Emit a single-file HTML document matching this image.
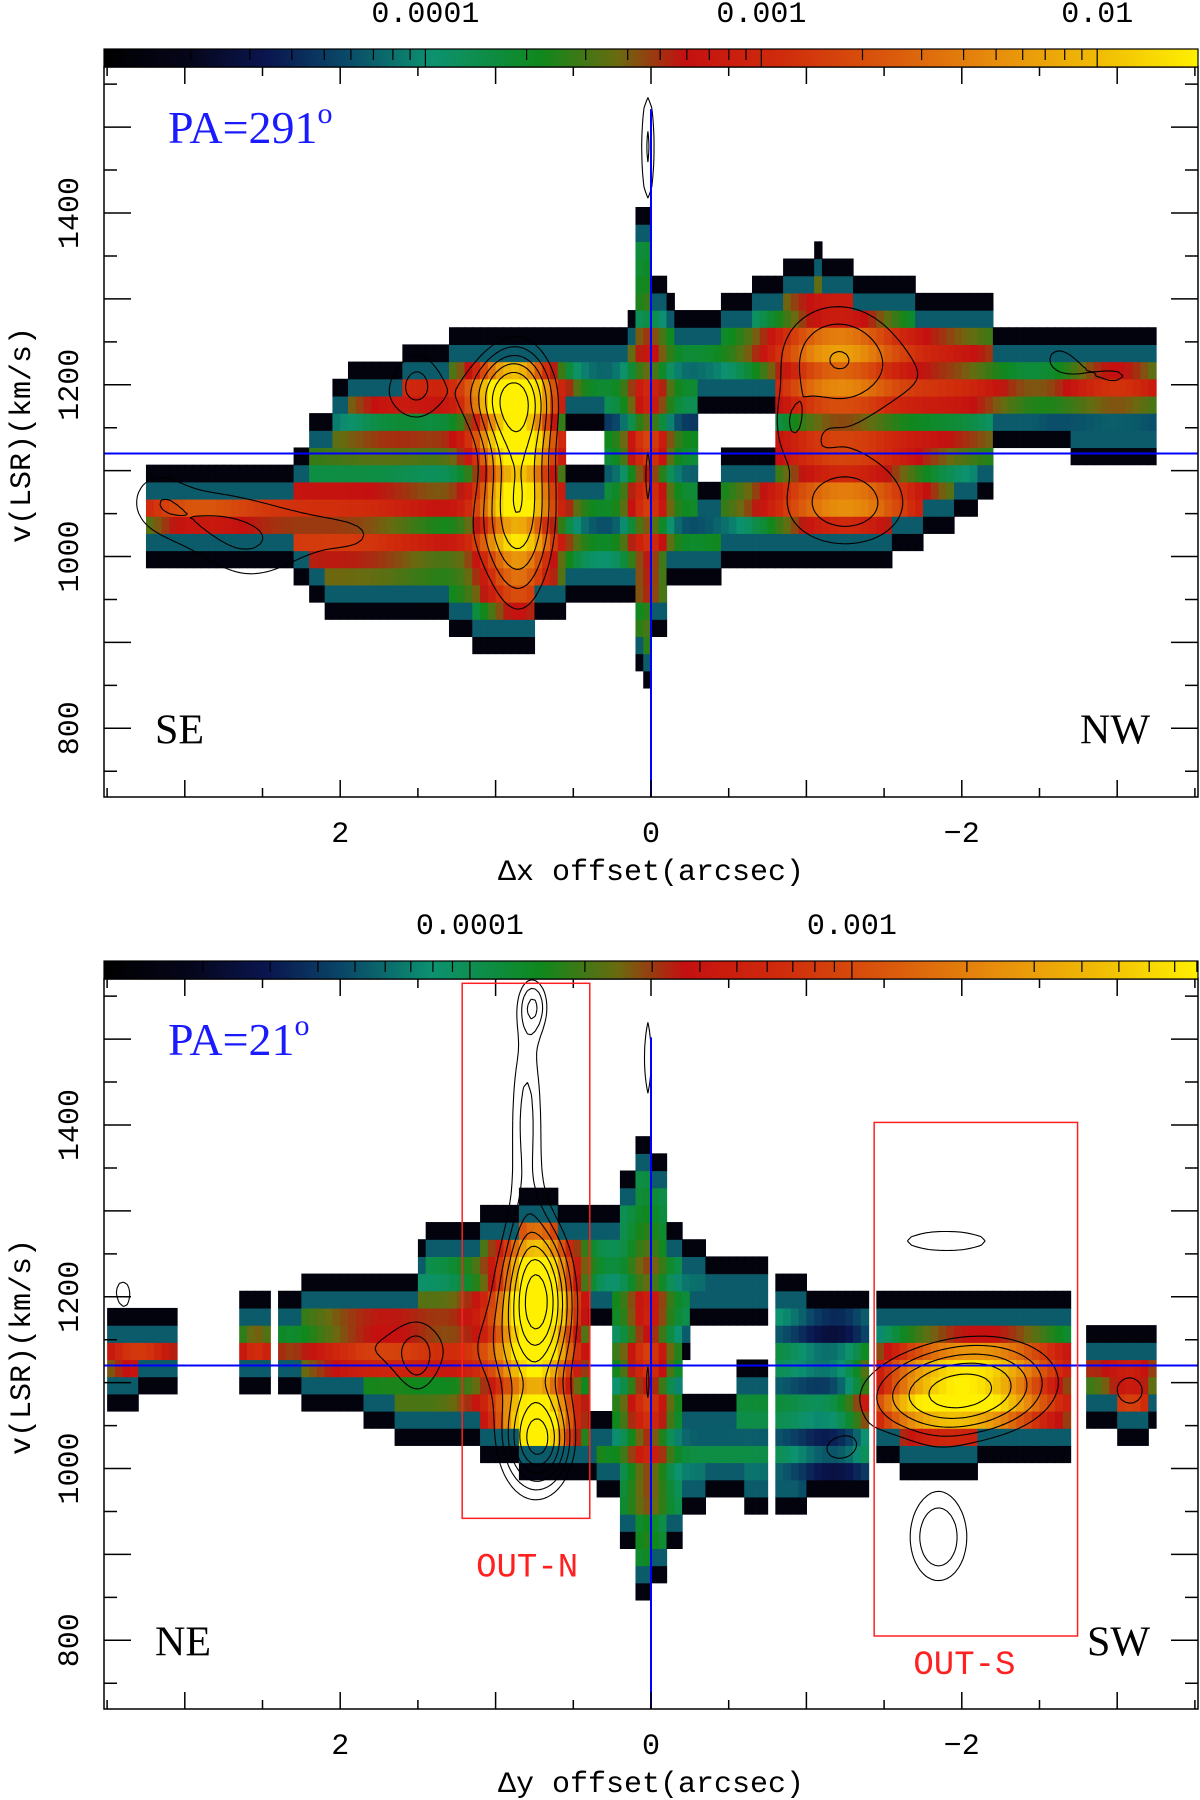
<!DOCTYPE html>
<html><head><meta charset="utf-8"><title>PV diagrams</title>
<style>
html,body{margin:0;padding:0;background:#fff;}
svg{display:block;}
text{font-family:"Liberation Mono",monospace;}
text.serif{font-family:"Liberation Serif",serif;}
</style></head>
<body>
<svg id="chart" width="1200" height="1800" viewBox="0 0 1200 1800" xmlns="http://www.w3.org/2000/svg">
<defs>
<linearGradient id="cmapgrad" x1="0" x2="1" y1="0" y2="0"></linearGradient>
</defs>
<g id="top-panel"></g>
<g id="bottom-panel"></g>
</svg>
<script>
// ---- colormap ----
const cmapPos=[0,0.08,0.15,0.22,0.3,0.4,0.47,0.53,0.62,0.72,0.82,0.91,1];
const cmapCol=['#000000','#06061c','#0a1650','#0a4868','#0c9270','#10881c','#6a6a10','#c41010','#d02c0c','#da5a0c','#e8900c','#f0bc04','#fff000'];

// ---- top panel data (PA=291) ----
const topSegments=[[3.25,2.31,987,1104],[2.31,2.21,967,1124],[2.21,2.12,947,1164],[2.12,2.07,927,1164],[2.07,1.97,927,1204],[1.97,1.60,927,1224],[1.60,1.28,927,1244],[1.28,1.13,907,1264],[1.13,0.76,887,1264],[0.76,0.54,927,1264],[0.54,0.17,947,1264],[0.17,0.10,947,1284],[0.10,0.05,867,1400],[0.05,-0.02,847,1400],[-0.02,-0.10,907,1330],[-0.10,-0.15,967,1300],[-0.15,-0.44,967,1284],[-0.44,-0.64,987,1304],[-0.64,-0.84,987,1324],[-0.84,-1.28,987,1344],[-1.05,-1.12,987,1364],[-1.28,-1.55,987,1324],[-1.55,-1.72,1007,1324],[-1.72,-1.77,1007,1304],[-1.77,-1.97,1027,1304],[-1.97,-2.09,1047,1304],[-2.09,-2.19,1067,1304],[-2.19,-2.71,1127,1264],[-2.71,-3.25,1107,1264]];
const topHoles=[[0.54,0.32,1104,1148],[-0.30,-0.78,1120,1164],[-0.30,-0.47,1084,1120]];
const topComps=[[0.85,1080,0.18,110,0.65],[0.9,1190,0.2,40,0.45],[2.0,1030,0.7,50,0.3],[3.0,1050,0.35,40,0.25],[1.6,1190,0.35,40,0.25],[0.02,1100,0.1,150,0.3],[-1.2,1230,0.35,60,0.5],[-1.25,1060,0.4,50,0.45],[-3.0,1210,0.3,30,0.3],[-2.0,1200,0.3,50,0.22]];
const topFaint=[[2.6,990,0.25,40,0.15],[3.2,1080,0.15,30,0.15],[-2.6,1240,0.15,30,0.2],[0.02,1480,0.05,70,0.4],[1.8,950,0.2,30,0.15],[-0.4,1110,0.12,30,0.25],[1.5,1210,0.12,40,0.2],[-0.9,1150,0.1,30,0.2]];
const topRowMod=[0,0,0,0,0,0,0,0,0,0,0,-0.05,0.02,0,-0.02,0.06,-0.1,0.06,0.04,-0.08,0.05,0.08,-0.12,0.02,0.06,-0.06,0.05,0.03,-0.1,0,0,0,0,0,0,0,0,0,0,0,0,0,0,0];
const topCbTicks=[-4,-3,-2];
const topCbLabels=['0.0001','0.001','0.01'];

// ---- bottom panel data (PA=21) ----
const botSegments=[[3.51,3.05,1088,1185],[3.51,3.29,1065,1088],[2.66,2.43,1088,1205],[2.38,2.24,1088,1205],[2.24,1.87,1065,1225],[1.87,1.67,1048,1225],[1.67,1.52,1025,1225],[1.52,1.45,1025,1265],[1.45,1.11,1025,1285],[1.11,0.84,1005,1305],[0.84,0.61,988,1325],[0.61,0.37,988,1305],[0.37,0.20,968,1305],[0.20,0.10,905,1345],[0.10,0.02,848,1385],[0.02,-0.10,868,1368],[-0.10,-0.20,908,1285],[-0.20,-0.37,948,1265],[-0.37,-0.59,968,1245],[-0.59,-0.74,948,1245],[-0.79,-0.98,948,1225],[-0.98,-1.38,968,1205],[-1.43,-1.62,1005,1205],[-1.62,-2.11,985,1205],[-2.11,-2.71,1005,1205],[-2.80,-3.27,1048,1165],[-3.0,-3.22,1028,1048],[-3.49,-3.53,1065,1165]];
const botHoles=[[0.42,0.25,1068,1165],[-0.25,-0.74,1128,1165],[-0.22,-0.57,1085,1128]];
const botComps=[[0.72,1200,0.15,60,0.65],[0.72,1030,0.15,40,0.6],[0.8,1130,0.25,130,0.35],[1.7,1140,0.45,40,0.3],[3.3,1140,0.2,30,0.28],[2.55,1140,0.1,30,0.2],[0.02,1100,0.1,130,0.3],[-1.9,1080,0.45,40,0.6],[-2.2,1120,0.4,40,0.3],[-3.1,1090,0.15,30,0.3],[-1.2,1100,0.2,200,-0.18]];
const botFaint=[[0.8,1420,0.1,100,0.4],[0.75,1540,0.08,25,0.35],[-1.85,920,0.18,50,0.5],[-1.9,1265,0.45,20,0.35],[1.9,1010,0.3,20,0.2],[3.4,1210,0.12,30,0.3],[0.02,1480,0.04,70,0.35],[-1.2,1020,0.15,20,0.28],[1.5,1120,0.1,40,0.2]];
const botRowMod=[0,0,0,0,0,0,0,0,0,0,0,-0.04,0.02,0,-0.03,0.05,-0.06,0.04,0.06,-0.06,0.04,0.07,-0.04,0.03,0.05,-0.04,0.02,0,0,0,0,0,0,0,0,0,0,0,0,0,0,0,0,0];
const botCbTicks=[-4,-3];
const botCbLabels=['0.0001','0.001'];

const contourLevels=[0.3,0.4,0.5,0.6,0.7,0.8,0.9];
const xTickLabels=[2,0,-2];
const yTickLabels=[800,1000,1200,1400];

const NS='http://www.w3.org/2000/svg';
function mk(tag,attrs,parent){const e=document.createElementNS(NS,tag);for(const k in attrs)e.setAttribute(k,attrs[k]);if(parent)parent.appendChild(e);return e;}

const grad=document.getElementById('cmapgrad');
cmapPos.forEach((p,i)=>{mk('stop',{offset:p,'stop-color':cmapCol[i]},grad);});

function hex(h){return [parseInt(h.substr(1,2),16),parseInt(h.substr(3,2),16),parseInt(h.substr(5,2),16)];}
const cmapRGB=cmapCol.map(hex);
function cmap(c){c=Math.max(0,Math.min(1,c));for(let i=1;i<cmapPos.length;i++){if(c<=cmapPos[i]){const t=(c-cmapPos[i-1])/(cmapPos[i]-cmapPos[i-1]);const a=cmapRGB[i-1],b=cmapRGB[i];return 'rgb('+Math.round(a[0]+(b[0]-a[0])*t)+','+Math.round(a[1]+(b[1]-a[1])*t)+','+Math.round(a[2]+(b[2]-a[2])*t)+')';}}return cmapCol[cmapCol.length-1];}
function field(x,v,comps){let s=0;for(const c of comps){const dx=(x-c[0])/c[2],dv=(v-c[1])/c[3];s+=c[4]*Math.exp(-0.5*(dx*dx+dv*dv));}return s;}

function buildPanel(g,P){
  const x0=104,x1=1198,y0=P.y0,y1=P.y0+730;
  const X=x=>x0+(3.52-x)/7.04*(x1-x0);
  const Y=v=>y0+(1570-v)/850*(y1-y0);
  const inMask=(x,v)=>{let m=false;for(const s of P.segs){if(x<=Math.max(s[0],s[1])&&x>=Math.min(s[0],s[1])&&v>=s[2]&&v<=s[3]){m=true;break;}}if(!m)return false;for(const h of P.holes){if(x<=Math.max(h[0],h[1])&&x>=Math.min(h[0],h[1])&&v>=h[2]&&v<=h[3])return false;}return true;};
  const hm=mk('g',{},g);
  
  
  const dx=0.05,dv=20;
  for(let i=0;i<141;i++){
    const xc=3.525-i*dx;
    for(let j=0;j<43;j++){
      const vc=717+j*dv;
      if(!inMask(xc,vc))continue;
      let c=0.3+field(xc,vc,P.comps)+(P.rowMod[j]||0);
      const up1=inMask(xc,vc+dv),dn1=inMask(xc,vc-dv);
      if(!up1||!dn1)c=0.04;
      else if(!inMask(xc,vc+2*dv)||!inMask(xc,vc-2*dv))c=Math.min(c,0.24);
      const r=mk('rect',{x:X(xc+dx/2).toFixed(2),y:Y(vc+dv/2).toFixed(2),width:(X(xc-dx/2)-X(xc+dx/2)+0.6).toFixed(2),height:(Y(vc-dv/2)-Y(vc+dv/2)+0.6).toFixed(2),fill:cmap(c)},hm);
      
      
    }
  }
  const allC=P.comps.filter(c=>c[4]>0).concat(P.faint);
  const nx=282,ny=171,gx=i=>3.52-i*0.025,gv=j=>720+j*5;
  const F=[];for(let j=0;j<ny;j++){const row=[];for(let i=0;i<nx;i++)row.push(field(gx(i),gv(j),allC));F.push(row);}
  const cg=mk('g',{fill:'none',stroke:'#000','stroke-width':1.1},g);
  
  
  for(const L of contourLevels){
    let d='';
    for(let j=0;j<ny-1;j++)for(let i=0;i<nx-1;i++){
      const a=F[j][i],b=F[j][i+1],c=F[j+1][i+1],e=F[j+1][i];
      const pts=[];
      const ed=(p,q,xa,va,xb,vb)=>{if((p<L)!==(q<L)){const t=(L-p)/(q-p);pts.push([X(xa+(xb-xa)*t),Y(va+(vb-va)*t)]);}};
      ed(a,b,gx(i),gv(j),gx(i+1),gv(j));
      ed(b,c,gx(i+1),gv(j),gx(i+1),gv(j+1));
      ed(c,e,gx(i+1),gv(j+1),gx(i),gv(j+1));
      ed(e,a,gx(i),gv(j+1),gx(i),gv(j));
      for(let k=0;k+1<pts.length;k+=2)d+='M'+pts[k][0].toFixed(1)+' '+pts[k][1].toFixed(1)+'L'+pts[k+1][0].toFixed(1)+' '+pts[k+1][1].toFixed(1);
    }
    const p=mk('path',{d:d},cg);
    
    
  }
  const hl=mk('line',{x1:x0,x2:x1,y1:Y(1120),y2:Y(1120),stroke:'#0000ff','stroke-width':2},g);
  
  
  const vl=mk('line',{x1:X(0),x2:X(0),y1:Y(P.vTop),y2:y1,stroke:'#0000ff','stroke-width':2},g);
  
  
  const fr=mk('rect',{x:x0,y:y0,width:x1-x0,height:y1-y0,fill:'none',stroke:'#000','stroke-width':1.5},g);
  
  
  let td='';
  for(let k=-7;k<=7;k++){const x=k*0.5;const px=X(x);if(px<x0||px>x1)continue;const len=(k%2===0)?17:9;td+='M'+px+' '+y1+'v'+(-len)+'M'+px+' '+y0+'v'+len;}
  for(let v=750;v<=1550;v+=50){const py=Y(v);const len=(v%100===0)?27:13;td+='M'+x0+' '+py+'h'+len+'M'+x1+' '+py+'h'+(-len);}
  const tk=mk('path',{d:td,stroke:'#000','stroke-width':1.5,fill:'none'},g);
  
  
  xTickLabels.forEach(x=>{const t=mk('text',{x:X(x),y:y1+45,'font-size':30,'text-anchor':'middle'},g);t.textContent=(x<0?'\u2212'+(-x):String(x));});
  yTickLabels.forEach(v=>{const py=Y(v);const t=mk('text',{x:0,y:0,'font-size':30,'text-anchor':'middle',transform:'translate(78,'+py+') rotate(-90)'},g);t.textContent=v;});
  const xt=mk('text',{x:X(0),y:y1+83,'font-size':30,'text-anchor':'middle'},g);xt.textContent=P.xTitle;
  
  const yt=mk('text',{x:0,y:0,'font-size':30,'text-anchor':'middle',transform:'translate(30,'+(y0+368)+') rotate(-90)'},g);yt.textContent='v(LSR)(km/s)';
  
  const cb=mk('rect',{x:x0,y:y0-18,width:x1-x0,height:18,fill:'url(#cmapgrad)',stroke:'#000','stroke-width':1.2},g);
  
  const CX=l=>x0+(l-P.cbMin)/(P.cbMax-P.cbMin)*(x1-x0);
  let cd='';
  for(let e=-5;e<=-2;e++)for(let m=1;m<=9;m++){const l=e+Math.log10(m);const px=CX(l);if(px<=x0||px>=x1)continue;cd+='M'+px.toFixed(1)+' '+(y0-18)+'v'+(m===1?18:11);}
  const cbt=mk('path',{d:cd,stroke:'#000','stroke-width':1.2},g);
  
  P.cbTicks.forEach((l,i)=>{const t=mk('text',{x:CX(l),y:y0-45,'font-size':30,'text-anchor':'middle'},g);t.textContent=P.cbLabels[i];});
  const pa=mk('text',{x:168,y:y0+76,'font-size':46,fill:'#1a1aff','class':'serif'},g);
  pa.textContent=P.pa;
  const sup=mk('tspan',{'font-size':30,dy:-20},pa);sup.textContent='o';
  const l1=mk('text',{x:155,y:Y(800)+15,'font-size':42,'class':'serif'},g);l1.textContent=P.dirL;
  
  const l2=mk('text',{x:1150,y:Y(800)+15,'font-size':42,'class':'serif','text-anchor':'end'},g);l2.textContent=P.dirR;
  
  (P.boxes||[]).forEach(b=>{
    const r=mk('rect',{x:X(b[0]),y:Y(b[3]),width:X(b[1])-X(b[0]),height:Y(b[2])-Y(b[3]),fill:'none',stroke:'#ff2020','stroke-width':1.5},g);
    
    const t=mk('text',{x:X(b[5]),y:Y(b[6])+12,'font-size':34,'text-anchor':'middle',fill:'#ff2020'},g);t.textContent=b[4];
    
  });
}
buildPanel(document.getElementById('top-panel'),{y0:67,segs:topSegments,holes:topHoles,comps:topComps,faint:topFaint,rowMod:topRowMod,cbTicks:topCbTicks,cbLabels:topCbLabels,cbMin:-4.957,cbMax:-1.70,vTop:1521,xTitle:'\u0394x offset(arcsec)',pa:'PA=291',dirL:'SE',dirR:'NW'});
buildPanel(document.getElementById('bottom-panel'),{y0:979,segs:botSegments,holes:botHoles,comps:botComps,faint:botFaint,rowMod:botRowMod,cbTicks:botCbTicks,cbLabels:botCbLabels,cbMin:-4.958,cbMax:-2.094,vTop:1502,xTitle:'\u0394y offset(arcsec)',pa:'PA=21',dirL:'NE',dirR:'SW',
  boxes:[[1.215,0.394,942,1565,'OUT-N',0.797,888],[-1.436,-2.745,805,1403,'OUT-S',-2.017,775]]});
</script>
</body></html>
